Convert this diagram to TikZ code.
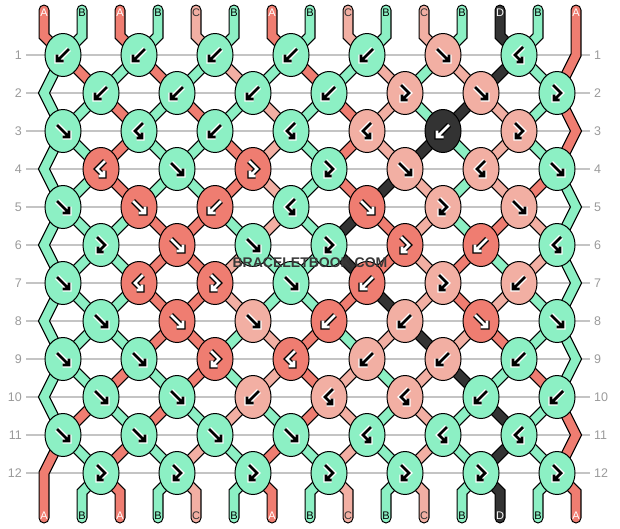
\documentclass[tikz,border=0pt]{standalone}
\usepackage{fontspec}
\setmainfont{Liberation Sans}
\usetikzlibrary{shapes.geometric}
\pgfdeclarelayer{bg}
\pgfsetlayers{bg,main}
\definecolor{cA}{HTML}{EF7D71}
\definecolor{cB}{HTML}{8CF0C4}
\definecolor{cC}{HTML}{F2AFA3}
\definecolor{cD}{HTML}{333333}
\colorlet{gcA}{white}\colorlet{gcB}{black}\colorlet{gcC}{black}\colorlet{gcD}{white}
\colorlet{ghA}{black}\colorlet{ghB}{white}\colorlet{ghC}{white}\colorlet{ghD}{black}
\colorlet{tcA}{white}\colorlet{tcB}{black}\colorlet{tcC}{black!80}\colorlet{tcD}{white}
\definecolor{gridgray}{HTML}{C4C4C4}
\definecolor{numgray}{HTML}{9A9A9A}
\tikzset{
 knot/.style={ellipse, draw=black, line width=1pt, minimum width=36pt, minimum height=43pt, inner sep=0pt},
 gline/.style={line width=1.1pt, draw=gridgray},
 rownum/.style={text=numgray, font=\fontsize{12.5}{13}\selectfont, inner sep=0pt},
 strlabel/.style={font=\fontsize{11}{12}\selectfont, inner sep=0pt},
 stroutline/.style={line width=11pt, draw=black, line cap=round, line join=miter},
 strfill/.style={line width=8.6pt, line cap=round, line join=miter},
 ghalo/.style={line width=5.4pt, line cap=square, line join=miter},
 gcore/.style={line width=2.8pt, line cap=butt, line join=miter},
 wmark/.style={text=black!78, font=\fontsize{14}{14}\selectfont\bfseries, inner sep=0pt},
}
\newcommand\glyR[1]{\draw[#1] (-6,-6) -- (6,6) (6,-0.5) -- (6,6) -- (-0.5,6);}
\newcommand\glyL[1]{\draw[#1] (6,-6) -- (-6,6) (-6,-0.5) -- (-6,6) -- (0.5,6);}
\newcommand\glyRL[1]{\draw[#1] (-4,-8) -- (4,0) -- (-3,7) (-3,1.5) -- (-3,7) -- (2.5,7);}
\newcommand\glyLR[1]{\draw[#1] (4,-8) -- (-4,0) -- (3,7) (3,1.5) -- (3,7) -- (-2.5,7);}
\newcommand\nodename[3]{%
  \pgfmathtruncatemacro\nnE{ifthenelse(isodd(#1),#2==15,#2==1)}%
  \pgfmathtruncatemacro\nnI{ifthenelse(isodd(#1),floor((#2+1)/2),floor(#2/2))}%
  \ifnum\nnE=1 \edef#3{e#1}\else\edef#3{k#1-\nnI}\fi}
\begin{document}
\begin{tikzpicture}[x=1pt,y=-1pt]
\useasboundingbox (0,0) rectangle (620,528);
% edge vertices and row numbers
\foreach \r in {1,...,12}{
  \pgfmathtruncatemacro\yy{55+38*(\r-1)}
  \ifodd\r\relax \coordinate (e\r) at (576,\yy); \else \coordinate (e\r) at (44,\yy); \fi
  \node[rownum, anchor=east] (rl\r) at (22,\yy) {\r};
  \node[rownum, anchor=west] (rr\r) at (594,\yy) {\r};
}
% string end coordinates
\foreach \p in {1,...,15}{
  \pgfmathtruncatemacro\xs{44+38*(\p-1)}
  \coordinate (st\p) at (\xs,10);
  \coordinate (sb\p) at (\xs,36);
  \coordinate (bb\p) at (\xs,492);
  \coordinate (bt\p) at (\xs,518);
}
% knots
\foreach \r/\ks in {
 1/{L/B,L/B,L/B,L/B,L/B,R/C,LR/B},
 2/{L/B,L/B,L/B,L/B,RL/C,R/C,RL/B},
 3/{R/B,LR/B,L/B,LR/B,LR/C,L/D,RL/C},
 4/{LR/A,R/B,RL/A,RL/B,R/C,LR/C,R/B},
 5/{R/B,R/A,L/A,LR/B,R/A,RL/C,R/C},
 6/{RL/B,R/A,R/B,RL/B,RL/A,L/A,LR/B},
 7/{R/B,LR/A,RL/A,R/B,L/A,RL/C,L/C},
 8/{R/B,R/A,R/C,L/A,L/C,R/A,R/B},
 9/{R/B,R/B,RL/A,LR/A,L/C,L/C,L/B},
 10/{R/B,R/B,L/C,LR/C,LR/C,L/B,L/B},
 11/{R/B,R/B,R/B,R/B,LR/B,LR/B,LR/B},
 12/{RL/B,RL/B,RL/B,RL/B,RL/B,RL/B,RL/B}}{
  \foreach \t/\c [count=\i] in \ks {
    \pgfmathtruncatemacro\xx{ifthenelse(isodd(\r),63,101)+76*(\i-1)}
    \pgfmathtruncatemacro\yy{55+38*(\r-1)}
    \node[knot, fill=c\c] (k\r-\i) at (\xx,\yy) {};
    \csname gly\t\endcsname{ghalo, draw=gh\c, shift={(\xx,\yy)}}
    \csname gly\t\endcsname{gcore, draw=gc\c, shift={(\xx,\yy)}}
  }
}
% string labels
\foreach \c [count=\p] in {A,B,A,B,C,B,A,B,C,B,C,B,D,B,A}{
  \pgfmathtruncatemacro\xs{44+38*(\p-1)}
  \node[strlabel, text=tc\c] (lt\p) at (\xs,12.5) {\c};
  \node[strlabel, text=tc\c] (lb\p) at (\xs,516) {\c};
}
% watermark
\node[wmark] (wm) at (310,263) {BRACELETBOOK.COM};
\begin{pgfonlayer}{bg}
\foreach \r in {1,...,12}{
  \draw[gline] ([xshift=4pt]rl\r.east) -- ([xshift=-4pt]rr\r.west);
}
\foreach \pass in {0,1}{
\foreach \r/\st in {
 0/{A,B,A,B,C,B,A,B,C,B,C,B,D,B,A},
 1/{B,A,B,A,B,C,B,A,B,C,B,C,D,B,A},
 2/{B,B,A,B,A,B,C,B,A,C,B,D,C,B,A},
 3/{B,B,A,B,B,A,C,B,A,C,D,B,C,B,A},
 4/{B,B,A,B,B,A,C,B,A,D,C,B,C,A,B},
 5/{B,B,B,A,A,B,C,B,D,A,C,B,A,C,B},
 6/{B,B,B,A,A,C,B,B,D,A,C,A,B,C,B},
 7/{B,B,B,A,A,C,B,B,A,D,C,A,C,B,B},
 8/{B,B,B,A,A,B,C,A,B,C,D,C,A,B,B},
 9/{B,B,A,B,A,B,C,A,C,B,C,D,B,A,B},
 10/{B,A,B,A,B,C,B,A,C,B,C,B,D,B,A},
 11/{A,B,A,B,C,B,A,B,C,B,C,B,D,B,A},
 12/{A,B,A,B,C,B,A,B,C,B,C,B,D,B,A}}{
  \foreach \c [count=\p] in \st {
    \ifnum\pass=0 \tikzset{cur/.style={stroutline}}\else\tikzset{cur/.style={strfill,draw=c\c}}\fi
    \ifnum\r=0
      \ifnum\p=15
        \draw[cur] (st15) -- (e1) -- (k2-7.center);
      \else
        \nodename{1}{\p}{\nA}
        \draw[cur] (st\p) -- (sb\p) -- (\nA.center);
      \fi
    \else\ifnum\r=12
      \ifnum\p>1
        \nodename{12}{\p}{\nA}
        \draw[cur] (\nA.center) -- (bb\p) -- (bt\p);
      \fi
    \else
      \pgfmathtruncatemacro\isE{ifthenelse(isodd(\r),\p==15,\p==1)}
      \pgfmathtruncatemacro\rr{\r+1}
      \pgfmathtruncatemacro\isEn{ifthenelse(isodd(\rr),\p==15,\p==1)}
      \nodename{\r}{\p}{\nA}
      \nodename{\rr}{\p}{\nB}
      \ifnum\isE=0
        \ifnum\isEn=1
          \ifnum\rr=12
            \draw[cur] (\nA.center) -- (\nB) -- (bt\p);
          \else
            \pgfmathtruncatemacro\rrr{\r+2}
            \nodename{\rrr}{\p}{\nC}
            \draw[cur] (\nA.center) -- (\nB) -- (\nC.center);
          \fi
        \else
          \draw[cur] (\nA.center) -- (\nB.center);
        \fi
      \fi
    \fi\fi
  }
}
}
\end{pgfonlayer}
\end{tikzpicture}
\end{document}
